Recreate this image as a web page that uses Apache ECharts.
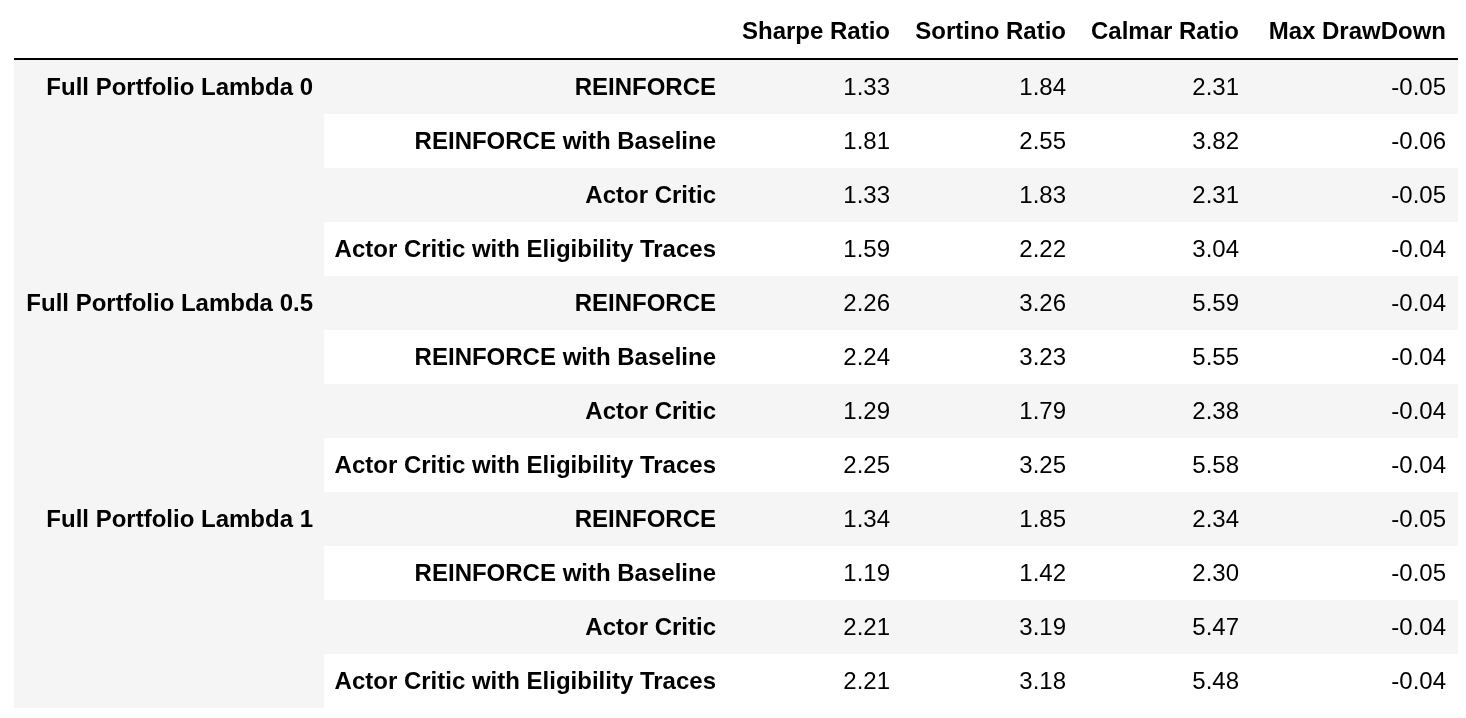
<!DOCTYPE html>
<html>
<head>
<meta charset="utf-8">
<script src="https://cdn.jsdelivr.net/npm/echarts@6/dist/echarts.min.js"></script>
<style>
  html, body { margin: 0; padding: 0; background: #fff; }
  #chart { width: 1466px; height: 718px; }
</style>
</head>
<body>
<div id="chart"></div>
<script>
// table contents
const headers = ['Sharpe Ratio', 'Sortino Ratio', 'Calmar Ratio', 'Max DrawDown']
const groups = ['Full Portfolio Lambda 0', 'Full Portfolio Lambda 0.5', 'Full Portfolio Lambda 1']
const models = ['REINFORCE', 'REINFORCE with Baseline', 'Actor Critic', 'Actor Critic with Eligibility Traces']
const sharpe = [1.33, 1.81, 1.33, 1.59, 2.26, 2.24, 1.29, 2.25, 1.34, 1.19, 2.21, 2.21]
const sortino = [1.84, 2.55, 1.83, 2.22, 3.26, 3.23, 1.79, 3.25, 1.85, 1.42, 3.19, 3.18]
const calmar = [2.31, 3.82, 2.31, 3.04, 5.59, 5.55, 2.38, 5.58, 2.34, 2.30, 5.47, 5.48]
const maxDrawDown = [-0.05, -0.06, -0.05, -0.04, -0.04, -0.04, -0.04, -0.04, -0.05, -0.05, -0.04, -0.04]

// layout (x in axis units = pixels)
const tableLeft = 14
const tableRight = 1458
const groupColRight = 324
const groupTextRight = 313
const modelTextRight = 716
const valueTextRight = [890, 1066, 1239, 1446]
const font = '"Liberation Sans", Helvetica, Arial, sans-serif'
const fontSize = 24
const textShift = 1.5
const stripe = '#f5f5f5'

const columns = [sharpe, sortino, calmar, maxDrawDown]
const rowIds = sharpe.map((v, i) => String(i))

function txt(x, y, text, bold) {
  return {
    type: 'text',
    style: {
      x: x,
      y: y + textShift,
      text: text,
      textAlign: 'right',
      textVerticalAlign: 'middle',
      fill: '#000',
      font: (bold ? 'bold ' : '') + fontSize + 'px ' + font
    }
  }
}

function renderRow(params, api) {
  const i = api.value(0)
  const left = api.coord([tableLeft, i])
  const mid = left[1]
  const h = api.size([0, 1])[1]
  const right = api.coord([tableRight, i])[0]
  const groupRight = api.coord([groupColRight, i])[0]
  const children = []
  // stripes: group column stays grey for the whole rowspan
  children.push({
    type: 'rect',
    shape: { x: left[0], y: mid - h / 2, width: (i % 2 === 0 ? right : groupRight) - left[0], height: h },
    style: { fill: stripe }
  })
  if (i % models.length === 0) {
    children.push(txt(api.coord([groupTextRight, i])[0], mid, groups[i / models.length], true))
  }
  children.push(txt(api.coord([modelTextRight, i])[0], mid, models[i % models.length], true))
  columns.forEach((col, c) => {
    children.push(txt(api.coord([valueTextRight[c], i])[0], mid, col[i].toFixed(2), false))
  })
  return { type: 'group', children: children }
}

function renderHeader(params, api) {
  const top = params.coordSys.y
  const children = [{
    type: 'line',
    shape: { x1: api.coord([tableLeft, 0])[0], y1: top - 1, x2: api.coord([tableRight, 0])[0], y2: top - 1 },
    style: { stroke: '#000', lineWidth: 2 }
  }]
  headers.forEach((t, c) => {
    children.push(txt(api.coord([valueTextRight[c], 0])[0], top - 29, t, true))
  })
  return { type: 'group', children: children }
}

const chart = echarts.init(document.getElementById('chart'))
chart.setOption({
  animation: false,
  backgroundColor: '#fff',
  grid: { left: 0, right: 0, top: 60, bottom: 10 },
  xAxis: { type: 'value', min: 0, max: 1466, show: false },
  yAxis: { type: 'category', data: rowIds, inverse: true, show: false },
  series: [
    {
      type: 'custom',
      name: 'rows',
      data: rowIds.map((r, i) => [i]),
      renderItem: renderRow,
      encode: { y: 0 },
      clip: false
    },
    {
      type: 'custom',
      name: 'header',
      data: [[0]],
      renderItem: renderHeader,
      encode: { y: 0 },
      clip: false
    }
  ]
})
</script>
</body>
</html>
